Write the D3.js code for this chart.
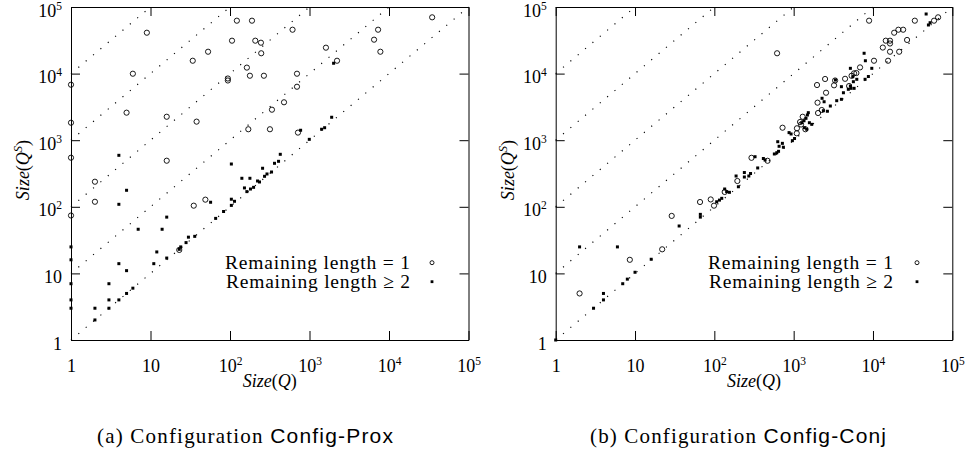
<!DOCTYPE html>
<html><head><meta charset="utf-8">
<script src="https://cdn.jsdelivr.net/npm/d3@7"></script>
<style>body{margin:0;background:#fff}</style>
</head><body>
<svg id="c" width="967" height="458" xmlns="http://www.w3.org/2000/svg"></svg>
<script>
// ---------- data ----------
const tickValues = [1, 10, 100, 1000, 10000, 100000];
const tickLabels = ["1", "10", "10^2", "10^3", "10^4", "10^5"];
const diagMultipliers = [1, 10, 100, 1000, 10000];
const legendLabels = ["Remaining length = 1", "Remaining length \u2265 2"];
const captionsA = ["(a) Configuration ", "Config-Prox"];
const captionsB = ["(b) Configuration ", "Config-Conj"];

// Config-Prox, remaining length = 1 (circles)  [Size(Q), Size(Q^S)]
const proxLen1 = [
 [122,62300],[9,41100],[106,31200],[53,21300],[34,15600],[6,9960],[94,8440],[94,7880],
 [1,6810],[5,2590],[16,2250],[38,1900],[1,1830],[1,546],[16,492],[189,62300],
 [34900,70000],[612,45600],[7290,45600],[208,31200],[245,29100],[6490,32300],[247,20200],
 [1610,24500],[7790,21300],[2220,15600],[163,12300],[178,9290],[267,9290],[696,9960],
 [696,6350],[478,3710],[337,2870],[170,1460],[318,1460],[716,1300],[49,128],[35,104],
 [2,238],[2,119],[1,74],[23,22.5]
];
// Config-Prox, remaining length >= 2 (squares)
const proxLen2 = [
 [4,593],[104,439],[2010,14300],[773,1410],[1900,2210],[1420,1460],[1550,1540],[994,1030],
 [429,614],[408,482],[363,450],[257,379],[333,333],[292,311],[272,287],[141,268],[178,268],
 [222,244],[235,236],[198,196],[181,185],[163,169],[152,192],[57,117],[104,130],[114,121],
 [104,105],[83,85],[66,67],[16,70],[14,46],[7,46],[36,36],[30,35],[28,29],[24,25],[23,23],
 [5,177],[4,109],[1,25],[1,16],[1,7],[1,4],[1,3],[12,21],[16,17],[11,14],[4,14],[5,11],
 [3,7],[4,4],[3,4],[5,5],[6,6],[2,3],[3,3],[2,2]
];
// Config-Conj, remaining length = 1 (circles)
const conjLen1 = [
 [2,5],[8.6,16],[22,23],[29,73],[66,118],[90,129],[99,104],[135,167],[195,244],[294,544],
 [469,491],[724,1540],[618,20200],[1100,1510],[1094,1270],[1205,1876],[1240,1720],[1300,2250],
 [1405,1460],[2000,3660],[2260,2840],[2030,2560],[1970,6740],[2560,5160],[2490,8300],
 [3230,6670],[3330,7880],[4450,8350],[5370,9270],[5780,10100],[6180,10200],[5000,6510],
 [6870,12400],[10300,15600],[15500,15600],[13300,24600],[16400,21300],[21400,21300],
 [14500,31200],[16400,31200],[16400,28300],[26900,32000],[18500,41100],[20900,45600],
 [24000,45600],[8930,62300],[33700,62300],[58900,62300],[66200,70000]
];
// Config-Conj, remaining length >= 2 (squares)
const conjLen2 = [
 [1,1],[2,25],[3,3],[4,4],[4,5],[6,25],[7,7],[8,8.2],[10,10.4],[16,16.3],[36,51.5],
 [66.6,77],[66.6,70],[107,119],[116,126],[124,134],[135,185],[143,169],[155,165],[188,290],
 [201,200],[239,327],[239,280],[272,290],[286,316],[352,383],[326,565],[415,531],[436,504],
 [571,621],[613,649],[645,681],[630,949],[721,897],[742,785],[655,810],[875,1300],[928,1240],
 [964,984],[1026,1060],[1265,1830],[1350,1960],[1430,2130],[1490,2390],[1530,2590],
 [1365,1540],[1462,1460],[1578,1830],[1690,1730],[2280,4260],[2420,3780],[2370,2770],
 [2660,2720],[2900,3260],[3490,3920],[4000,4110],[4240,5160],[4000,6360],[3360,8010],
 [4890,5810],[5290,6010],[5780,6010],[5190,6510],[5660,7560],[6250,8210],[5560,8980],
 [5190,12000],[7950,8210],[8750,9040],[9660,12000],[7730,20200],[8020,15600],[46800,78500],
 [50000,53700],[52500,58100]
];

const panelsData = [
  {len1: proxLen1, len2: proxLen2, caption: captionsA},
  {len1: conjLen1, len2: conjLen2, caption: captionsB}
];

// ---------- layout ----------
const layout = [
  {x0: 71, x1: 468.5, cap: 245, legText: 410, legMark: 432},
  {x0: 555.7, x1: 952.3, cap: 738, legText: 893, legMark: 917}
];
const yTop = 7, yBot = 340;
const serif = "'Liberation Serif','Times New Roman',serif";
const sans = "'Liberation Sans',Arial,sans-serif";
const svg = d3.select("#c");

function writeLabel(sel, s) {
  sel.text(null);
  const parts = s.split("^");
  sel.append("tspan").text(parts[0]);
  if (parts[1]) sel.append("tspan").attr("dy", -7).attr("font-size", 11.5).text(parts[1]);
}

panelsData.forEach((pd, i) => {
  const L = layout[i];
  const x = d3.scaleLog().domain([1, 1e5]).range([L.x0, L.x1]);
  const y = d3.scaleLog().domain([1, 1e5]).range([yBot, yTop]);
  const g = svg.append("g");

  // dotted reference diagonals y = m * x
  g.selectAll("line.diag").data(diagMultipliers).join("line")
    .attr("class", "diag")
    .attr("x1", x(1)).attr("y1", m => y(m))
    .attr("x2", m => x(1e5 / m)).attr("y2", y(1e5))
    .attr("stroke", "#000").attr("stroke-width", 1.15)
    .attr("stroke-dasharray", "1.15,8.45");

  // axes
  const bottom = g.append("g").attr("transform", `translate(0,${yBot})`)
    .call(d3.axisBottom(x).tickValues(tickValues).tickSizeInner(-9).tickSizeOuter(0));
  const left = g.append("g").attr("transform", `translate(${L.x0},0)`)
    .call(d3.axisLeft(y).tickValues(tickValues).tickSizeInner(-9).tickSizeOuter(0));
  g.append("g").attr("transform", `translate(0,${yTop})`)
    .call(d3.axisTop(x).tickValues(tickValues).tickSizeInner(-9).tickSizeOuter(0).tickFormat(() => ""));
  g.append("g").attr("transform", `translate(${L.x1},0)`)
    .call(d3.axisRight(y).tickValues(tickValues).tickSizeInner(-9).tickSizeOuter(0).tickFormat(() => ""));

  g.selectAll(".domain, .tick line").attr("stroke", "#000").attr("stroke-width", 1);

  bottom.attr("font-family", serif).attr("font-size", 18);
  bottom.selectAll(".tick text").attr("y", 32).attr("dy", null).attr("fill", "#000")
    .each(function(d, k) { writeLabel(d3.select(this), tickLabels[k]); });
  left.attr("font-family", serif).attr("font-size", 18);
  left.selectAll(".tick text").attr("x", -9).attr("y", 9).attr("dy", null).attr("fill", "#000")
    .each(function(d, k) { writeLabel(d3.select(this), tickLabels[k]); });

  // points
  g.selectAll("circle.pt").data(pd.len1).join("circle")
    .attr("class", "pt")
    .attr("cx", d => x(d[0])).attr("cy", d => y(d[1])).attr("r", 2.6)
    .attr("fill", "none").attr("stroke", "#000").attr("stroke-width", 0.9);
  g.selectAll("rect.pt").data(pd.len2).join("rect")
    .attr("class", "pt")
    .attr("x", d => x(d[0]) - 1.5).attr("y", d => y(d[1]) - 1.5)
    .attr("width", 3).attr("height", 3).attr("fill", "#000");

  // legend
  const legY = [262.7, 281.7];
  legendLabels.forEach((t, k) => {
    g.append("text").attr("x", L.legText).attr("y", legY[k] + 6.5)
      .attr("text-anchor", "end").attr("font-family", serif).attr("font-size", 19.5)
      .attr("textLength", k === 0 ? 185 : 184).attr("lengthAdjust", "spacing")
      .attr("fill", "#000").text(t);
  });
  g.append("circle").attr("cx", L.legMark).attr("cy", legY[0]).attr("r", 2)
    .attr("fill", "none").attr("stroke", "#000").attr("stroke-width", 0.9);
  g.append("rect").attr("x", L.legMark - 1.4).attr("y", legY[1] - 1.4)
    .attr("width", 2.8).attr("height", 2.8).attr("fill", "#000");

  // axis titles
  const xt = g.append("text").attr("x", (L.x0 + L.x1) / 2).attr("y", 387)
    .attr("text-anchor", "middle").attr("font-family", serif).attr("font-size", 18);
  xt.append("tspan").attr("font-style", "italic").text("Size");
  xt.append("tspan").text("(");
  xt.append("tspan").attr("font-style", "italic").text("Q");
  xt.append("tspan").text(")");

  const yt = g.append("text")
    .attr("transform", `translate(${L.x0 - 42},170) rotate(-90)`)
    .attr("text-anchor", "middle").attr("font-family", serif).attr("font-size", 18);
  yt.append("tspan").attr("font-style", "italic").text("Size");
  yt.append("tspan").text("(");
  yt.append("tspan").attr("font-style", "italic").text("Q");
  yt.append("tspan").attr("font-style", "italic").attr("font-size", 12.5).attr("dy", -7).text("S");
  yt.append("tspan").attr("dy", 7).text(")");

  // caption
  const cap = g.append("text").attr("x", L.cap).attr("y", 443)
    .attr("text-anchor", "middle").attr("font-size", 21).attr("fill", "#000")
    .attr("textLength", 296).attr("lengthAdjust", "spacing");
  cap.append("tspan").attr("font-family", serif).text(pd.caption[0]);
  cap.append("tspan").attr("font-family", sans).text(pd.caption[1]);
});
</script>
</body></html>
